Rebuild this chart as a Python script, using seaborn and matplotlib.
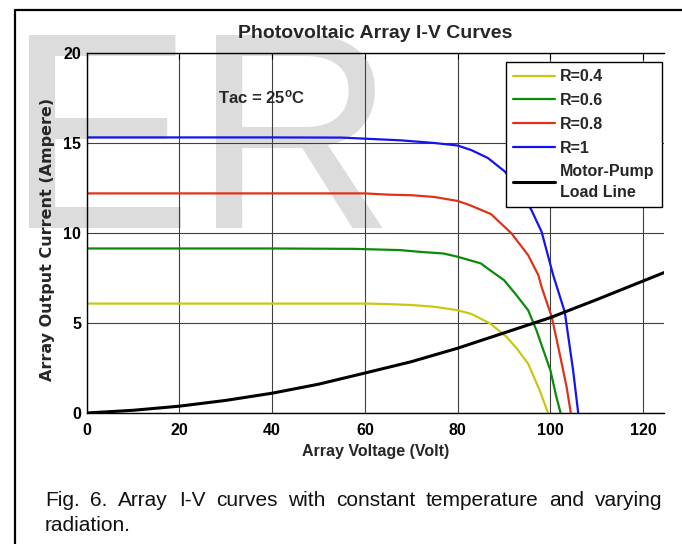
import numpy as np
import pandas as pd
import matplotlib
matplotlib.use("Agg")
import matplotlib.pyplot as plt
from matplotlib.lines import Line2D
import seaborn as sns

# ---------------- data ----------------
series_names = ["R=0.4", "R=0.6", "R=0.8", "R=1", "Motor-Pump\nLoad Line"]

voltage_r04 = [0, 20, 40, 60, 65, 70, 75, 80, 83, 87, 90.6, 93, 95.2, 97.7, 99.5]
current_r04 = [6.08, 6.08, 6.08, 6.08, 6.05, 6.0, 5.9, 5.71, 5.5, 4.97, 4.22, 3.5, 2.74, 1.25, 0]

voltage_r06 = [0, 20, 40, 57.5, 67.6, 72, 77, 80, 85, 87, 90, 92.7, 95.2, 97, 100, 101.3, 102.2]
current_r06 = [9.14, 9.14, 9.14, 9.12, 9.05, 8.95, 8.86, 8.68, 8.31, 7.93, 7.38, 6.54, 5.71, 4.59, 2.37, 0.88, 0]

voltage_r08 = [0, 20, 40, 60, 65, 70, 75, 80, 82.6, 87.2, 91.6, 95.2, 97.4, 98.1, 100.3, 102.0, 103.5, 104.4]
current_r08 = [12.2, 12.2, 12.2, 12.2, 12.13, 12.1, 12.0, 11.78, 11.55, 11.05, 9.98, 8.77, 7.66, 7.0, 5.33, 3.30, 1.44, 0]

voltage_r1 = [0, 20, 40, 55, 67.6, 75, 80, 83, 86.5, 90.2, 93, 95.9, 98.1, 100.6, 103.1, 104.9, 106.0]
current_r1 = [15.31, 15.31, 15.31, 15.3, 15.15, 15.0, 14.86, 14.6, 14.17, 13.41, 12.5, 11.28, 10.07, 7.66, 5.61, 2.37, 0]

voltage_load = [0, 10, 20, 30, 40, 50, 60, 70, 80, 90, 100, 110, 124.5]
current_load = [0, 0.15, 0.38, 0.70, 1.1, 1.6, 2.22, 2.85, 3.6, 4.45, 5.3, 6.3, 7.8]

x_ticks = [0, 20, 40, 60, 80, 100, 120]
y_ticks = [0, 5, 10, 15, 20]

colors = ["#c8c814", "#0a8a0a", "#e0321a", "#1414f0", "#000000"]

title = "Photovoltaic Array I-V Curves"
xlabel = "Array Voltage (Volt)"
ylabel = "Array Output Current (Ampere)"
caption1 = "Fig. 6. Array I-V curves with constant temperature and varying"
caption2 = "radiation."

# ---------------- build long table ----------------
frames = []
for name, v, c in zip(series_names,
                      [voltage_r04, voltage_r06, voltage_r08, voltage_r1, voltage_load],
                      [current_r04, current_r06, current_r08, current_r1, current_load]):
    frames.append(pd.DataFrame({"V": v, "I": c, "series": name}))
df = pd.concat(frames, ignore_index=True)

# ---------------- style ----------------
sns.set_style("white")
plt.rcParams["font.family"] = ["Liberation Sans", "DejaVu Sans"]
plt.rcParams["font.weight"] = "bold"
plt.rcParams["axes.labelweight"] = "bold"
plt.rcParams["mathtext.fontset"] = "custom"
plt.rcParams["mathtext.rm"] = "Liberation Sans:bold"
plt.rcParams["mathtext.it"] = "Liberation Sans:bold"
plt.rcParams["mathtext.bf"] = "Liberation Sans:bold"

W, H = 682, 544
fig = plt.figure(figsize=(W / 100, H / 100), dpi=100)
fig.patch.set_facecolor("white")

# watermark
fig.text(6 / W, 1 - 228 / H, "ER", fontsize=202, color="#dcdcdc",
         family="Liberation Sans", fontweight="normal",
         ha="left", va="baseline", zorder=-10)

ax_l, ax_r, ax_t, ax_b = 86.7, 664.0, 53.0, 413.0
ax = fig.add_axes([ax_l / W, 1 - ax_b / H, (ax_r - ax_l) / W, (ax_b - ax_t) / H])
ax.set_facecolor("none")

sns.lineplot(data=df, x="V", y="I", hue="series", hue_order=series_names,
             palette=colors, sort=False, estimator=None, linewidth=1.6, ax=ax,
             legend=False)
lines = ax.get_lines()
lines[-1].set_linewidth(2.2)

ax.set_xlim(0, 124.5)
ax.set_ylim(0, 20)
ax.set_xticks(x_ticks)
ax.set_yticks(y_ticks)
ax.grid(True, color="0.25", lw=0.8, ls="-")
ax.set_axisbelow(True)
for s in ["left", "bottom", "top"]:
    ax.spines[s].set_color("black")
    ax.spines[s].set_linewidth(1.0)
ax.spines["right"].set_visible(False)
ax.tick_params(direction="in", length=4, width=0.8, top=True, right=False,
               labelsize=11.5, colors="black")
ax.tick_params(axis="x", pad=7)
ax.tick_params(axis="y", pad=4)
for t in ax.get_xticklabels() + ax.get_yticklabels():
    t.set_fontweight("bold")

ax.set_xlabel(xlabel, fontsize=11.5, fontweight="bold", va="top")
ax.xaxis.set_label_coords(0.5, (ax_b - 444) / (ax_b - ax_t))
ax.set_ylabel(ylabel, fontsize=11.5, fontweight="bold", family="DejaVu Sans",
              va="center")
ax.yaxis.set_label_coords((47.5 - ax_l) / (ax_r - ax_l), (ax_b - 239) / (ax_b - ax_t))

ax.text(0.5, (ax_b - 33) / (ax_b - ax_t), title, transform=ax.transAxes,
        ha="center", va="center", fontsize=14, fontweight="bold")

ax.text(28.3, 17.2, r"Tac = 25$^{\mathregular{o}}$C", fontsize=12,
        fontweight="bold", ha="left", va="baseline")

# legend
handles = [Line2D([], [], color=c, lw=(2.2 if i == 4 else 1.6)) for i, c in enumerate(colors)]
leg = ax.legend(handles, series_names, loc="upper right",
                bbox_to_anchor=((662 - ax_l) / (ax_r - ax_l), (ax_b - 62) / (ax_b - ax_t)),
                borderaxespad=0, fancybox=False, framealpha=1, edgecolor="black",
                prop={"family": "Liberation Sans", "weight": "bold", "size": 11.5},
                handlelength=2.6, handletextpad=0.35, labelspacing=0.55,
                borderpad=0.45)
leg.get_frame().set_linewidth(1.0)
leg.get_texts()[-1].set_linespacing(1.45)

# outer frame (left and top only, as in reference crop)
fig.add_artist(Line2D([15 / W, 15 / W], [0, 1 - 10 / H], transform=fig.transFigure,
                      color="black", lw=1.6))
fig.add_artist(Line2D([15 / W, 1], [1 - 10 / H, 1 - 10 / H], transform=fig.transFigure,
                      color="black", lw=1.6))

# caption (justified first line)
fig.canvas.draw()
renderer = fig.canvas.get_renderer()
cap_kw = dict(fontsize=15, fontweight="normal", family="Liberation Sans",
              color="#111111", va="baseline", ha="left")
words = caption1.split()
x_start, x_end = 45.0, 662.0
widths = []
for w in words:
    t = fig.text(0, 0, w, **cap_kw)
    widths.append(t.get_window_extent(renderer).width)
    t.remove()
gap = (x_end - x_start - sum(widths)) / (len(words) - 1)
x = x_start
for w, wd in zip(words, widths):
    fig.text(x / W, 1 - 506 / H, w, **cap_kw)
    x += wd + gap
fig.text(x_start / W, 1 - 531 / H, caption2, **cap_kw)

fig.savefig("out.png", dpi=100)
